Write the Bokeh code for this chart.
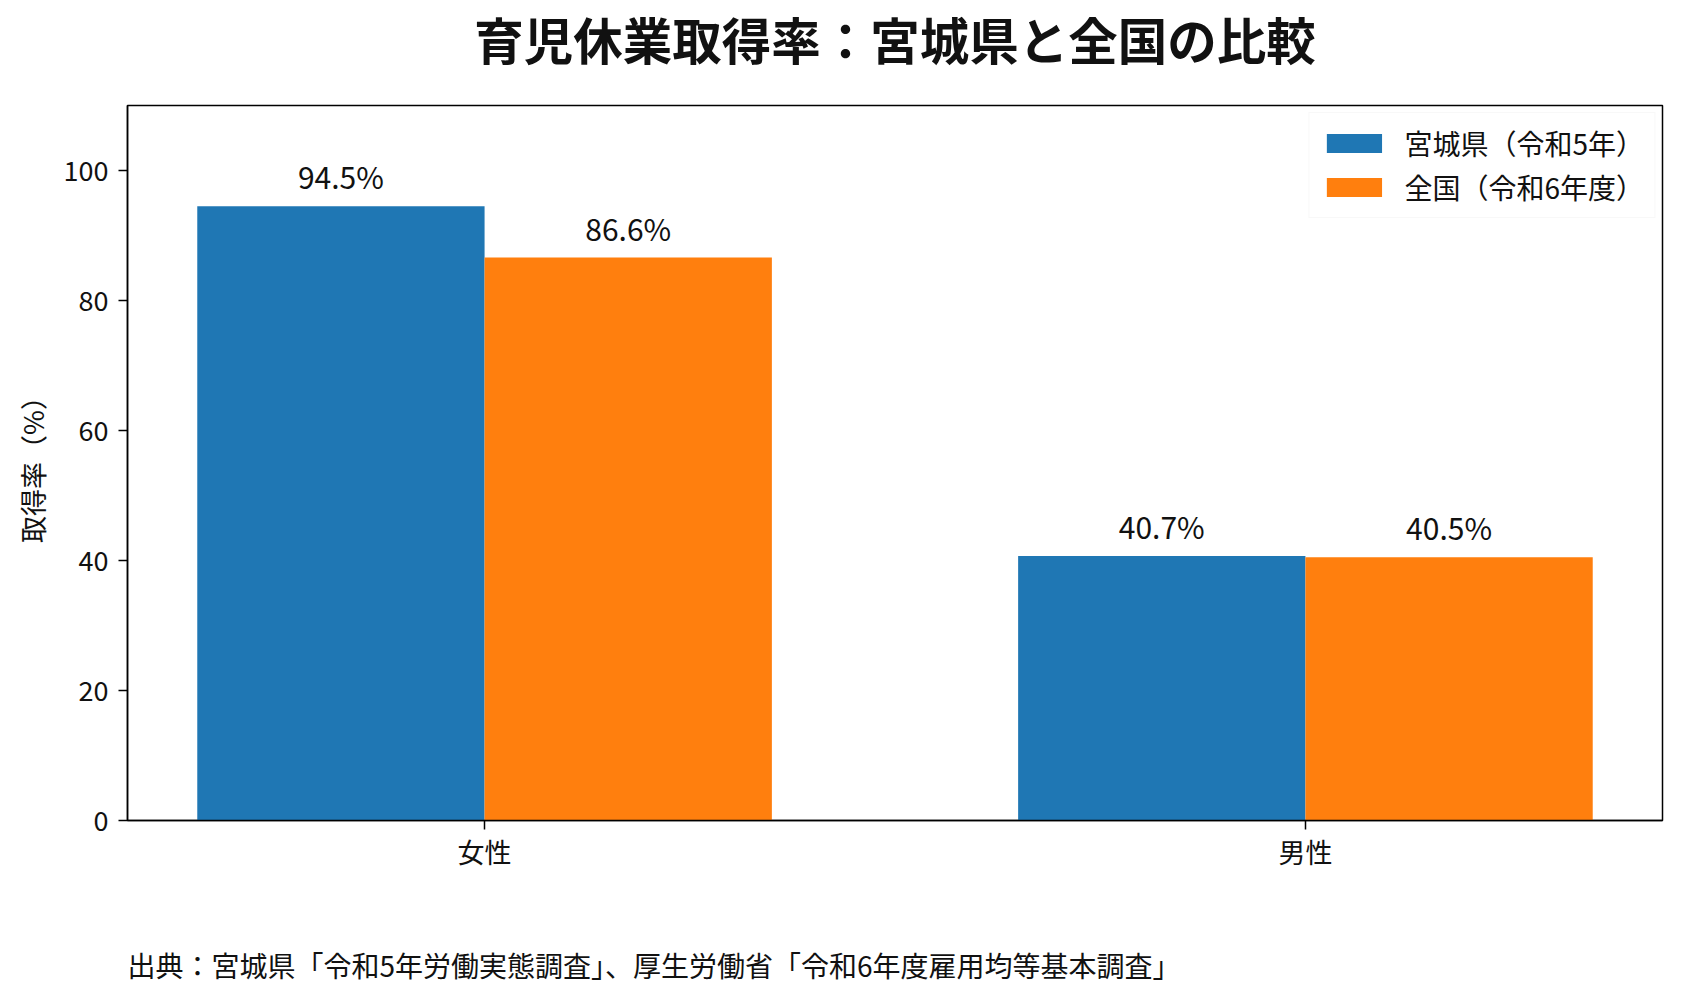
from bokeh.plotting import figure
from bokeh.models import (ColumnDataSource, Range1d, FixedTicker, LabelSet,
                          Legend, LegendItem, Title)
from bokeh.core.properties import value
from bokeh.embed import file_html
from bokeh.resources import INLINE
import numpy as np

# data
categories = ["女性", "男性"]
miyagi = [94.5, 40.7]
national = [86.6, 40.5]
series_names = ["宮城県（令和5年）", "全国（令和6年度）"]
y_ticks = [0, 20, 40, 60, 80, 100]

title_text = "育児休業取得率：宮城県と全国の比較"
source_text = "出典：宮城県「令和5年労働実態調査」、厚生労働省「令和6年度雇用均等基本調査」"
y_label = "取得率（%）"

FONT = "Noto Sans CJK JP"
BLUE = "#1f77b4"
ORANGE = "#ff7f0e"
bar_w = 0.35

idx = np.arange(len(categories))
src_a = ColumnDataSource(dict(x=idx - bar_w / 2, top=miyagi,
                              lbl=[f"{v}%" for v in miyagi]))
src_b = ColumnDataSource(dict(x=idx + bar_w / 2, top=national,
                              lbl=[f"{v}%" for v in national]))

p = figure(width=1681, height=1004, output_backend="svg", toolbar_location=None,
           x_range=Range1d(-0.435, 1.435), y_range=Range1d(0, 110),
           min_border_left=127, min_border_right=19, min_border_top=104,
           min_border_bottom=184)

r_a = p.vbar(x="x", top="top", width=bar_w, source=src_a, color=BLUE, line_width=0)
r_b = p.vbar(x="x", top="top", width=bar_w, source=src_b, color=ORANGE, line_width=0)

for s in (src_a, src_b):
    p.add_layout(LabelSet(x="x", y="top", text="lbl", source=s, y_offset=17,
                          text_align="center", text_baseline="alphabetic",
                          text_font=value(FONT), text_font_size=value("30px"),
                          text_color="#111111"))

# spacer titles push the chart title up and the source note down
p.add_layout(Title(text=" ", text_font_size="10px", standoff=19), "above")
p.add_layout(Title(text=title_text, align="center", text_font=FONT,
                   text_font_size="49.5px", text_font_style="bold",
                   text_color="#111111", standoff=0), "above")

p.xgrid.visible = False
p.ygrid.visible = False
p.outline_line_color = "black"
p.outline_line_width = 1.5

p.xaxis.ticker = FixedTicker(ticks=list(idx))
p.xaxis.major_label_overrides = {int(i): c for i, c in zip(idx, categories)}
p.yaxis.ticker = FixedTicker(ticks=y_ticks)
p.yaxis.axis_label = y_label

for ax in (p.xaxis, p.yaxis):
    ax.axis_line_color = "black"
    ax.axis_line_width = 1.5
    ax.major_tick_line_color = "black"
    ax.major_tick_line_width = 1.5
    ax.major_tick_in = 0
    ax.major_tick_out = 9
    ax.minor_tick_line_color = None
    ax.major_label_text_font = FONT
    ax.major_label_text_font_size = "27px"
    ax.major_label_text_color = "#111111"
    ax.axis_label_text_font = FONT
    ax.axis_label_text_font_size = "27px"
    ax.axis_label_text_font_style = "normal"
    ax.axis_label_text_color = "#111111"
p.xaxis.major_label_standoff = 2
p.yaxis.major_label_standoff = 10
p.yaxis.axis_label_standoff = 9

legend = Legend(items=[LegendItem(label=series_names[0], renderers=[r_a]),
                       LegendItem(label=series_names[1], renderers=[r_b])],
                location="top_right", glyph_width=69, glyph_height=24,
                label_standoff=16, padding=10, margin=7, spacing=4,
                label_text_font=FONT, label_text_font_size="28px",
                label_text_color="#111111", border_line_color="#f2f2f2",
                background_fill_alpha=0.8)
p.add_layout(legend)

p.add_layout(Title(text=" ", text_font_size="10px", standoff=56), "below")
p.add_layout(Title(text=source_text, align="left", text_font=FONT,
                   text_font_size="28px", text_font_style="normal",
                   text_color="#111111", standoff=0), "below")

open("out.html", "w").write(file_html(p, INLINE))
